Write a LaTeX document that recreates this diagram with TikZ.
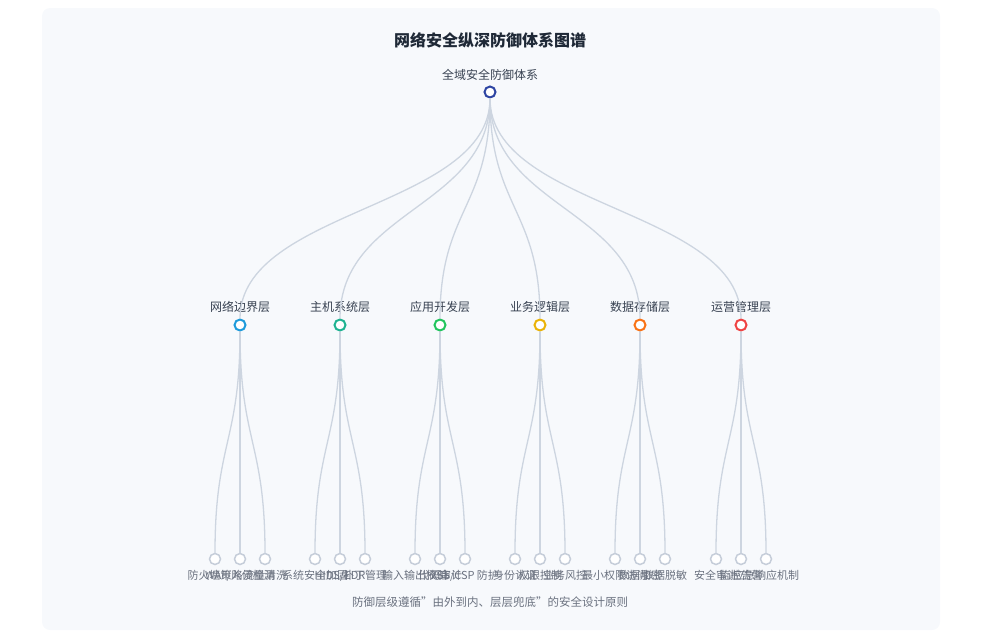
\documentclass[tikz,border=0pt]{standalone}
\usepackage{fontspec}
\setmainfont{Noto Sans CJK SC}
\usetikzlibrary{positioning}

\definecolor{panelbg}{HTML}{F7F9FC}
\definecolor{linkgray}{HTML}{CDD5E0}
\definecolor{leafgray}{HTML}{C5CDD9}
\definecolor{titledark}{HTML}{1F2937}
\definecolor{textdark}{HTML}{374151}
\definecolor{textgray}{HTML}{6B7280}
\definecolor{rootblue}{HTML}{2E45A3}
\definecolor{borderblue}{HTML}{1E9BDB}
\definecolor{hostteal}{HTML}{1FB391}
\definecolor{appgreen}{HTML}{22C55E}
\definecolor{bizyellow}{HTML}{EAB308}
\definecolor{dataorange}{HTML}{F97316}
\definecolor{opsred}{HTML}{EF4444}

\begin{document}
\begin{tikzpicture}[x=1pt,y=-1pt,
linkline/.style={draw=linkgray, line width=1.3pt},
rootdot/.style={circle, draw=rootblue, fill=white, line width=2pt, inner sep=0pt, minimum size=11pt},
layerdot/.style={circle, fill=white, line width=2pt, inner sep=0pt, minimum size=11pt},
leafdot/.style={circle, draw=leafgray, fill=white, line width=1.5pt, inner sep=0pt, minimum size=11pt},
titletext/.style={font=\fontsize{16}{20}\selectfont\bfseries, text=titledark},
layertext/.style={font=\fontsize{12}{14}\selectfont, text=textdark, inner sep=1pt},
leaftext/.style={font=\fontsize{11}{13}\selectfont, text=textgray, inner sep=1pt}]

\useasboundingbox (0,0) rectangle (982,637);
\fill[panelbg, rounded corners=8pt] (42,8) rectangle (940,630);

\node[titletext] (title) at (490,40) {网络安全纵深防御体系图谱};

% root and layers
\node[rootdot] (root) at (490,92) {};
\node[layertext, above=4pt of root] (roottxt) {全域安全防御体系};

\node[layerdot, draw=borderblue] (l1) at (240,325) {};
\node[layerdot, draw=hostteal] (l2) at (340,325) {};
\node[layerdot, draw=appgreen] (l3) at (440,325) {};
\node[layerdot, draw=bizyellow] (l4) at (540,325) {};
\node[layerdot, draw=dataorange] (l5) at (640,325) {};
\node[layerdot, draw=opsred] (l6) at (741,325) {};

\node[layertext, above=5pt of l1] (l1txt) {网络边界层};
\node[layertext, above=5pt of l2] (l2txt) {主机系统层};
\node[layertext, above=5pt of l3] (l3txt) {应用开发层};
\node[layertext, above=5pt of l4] (l4txt) {业务逻辑层};
\node[layertext, above=5pt of l5] (l5txt) {数据存储层};
\node[layertext, above=5pt of l6] (l6txt) {运营管理层};

\draw[linkline] (root) .. controls +(0,116) and +(0,-116) .. (l1);
\draw[linkline] (root) .. controls +(0,116) and +(0,-116) .. (l2);
\draw[linkline] (root) .. controls +(0,116) and +(0,-116) .. (l3);
\draw[linkline] (root) .. controls +(0,116) and +(0,-116) .. (l4);
\draw[linkline] (root) .. controls +(0,116) and +(0,-116) .. (l5);
\draw[linkline] (root) .. controls +(0,116) and +(0,-116) .. (l6);

% leaves
\node[leafdot] (l1a) at (215,559) {};
\node[leafdot] (l1b) at (240,559) {};
\node[leafdot] (l1c) at (265,559) {};
\node[leafdot] (l2a) at (315,559) {};
\node[leafdot] (l2b) at (340,559) {};
\node[leafdot] (l2c) at (365,559) {};
\node[leafdot] (l3a) at (415,559) {};
\node[leafdot] (l3b) at (440,559) {};
\node[leafdot] (l3c) at (465,559) {};
\node[leafdot] (l4a) at (515,559) {};
\node[leafdot] (l4b) at (540,559) {};
\node[leafdot] (l4c) at (565,559) {};
\node[leafdot] (l5a) at (615,559) {};
\node[leafdot] (l5b) at (640,559) {};
\node[leafdot] (l5c) at (665,559) {};
\node[leafdot] (l6a) at (716,559) {};
\node[leafdot] (l6b) at (741,559) {};
\node[leafdot] (l6c) at (766,559) {};

\draw[linkline] (l1) .. controls +(0,117) and +(0,-117) .. (l1a);
\draw[linkline] (l1) -- (l1b);
\draw[linkline] (l1) .. controls +(0,117) and +(0,-117) .. (l1c);
\draw[linkline] (l2) .. controls +(0,117) and +(0,-117) .. (l2a);
\draw[linkline] (l2) -- (l2b);
\draw[linkline] (l2) .. controls +(0,117) and +(0,-117) .. (l2c);
\draw[linkline] (l3) .. controls +(0,117) and +(0,-117) .. (l3a);
\draw[linkline] (l3) -- (l3b);
\draw[linkline] (l3) .. controls +(0,117) and +(0,-117) .. (l3c);
\draw[linkline] (l4) .. controls +(0,117) and +(0,-117) .. (l4a);
\draw[linkline] (l4) -- (l4b);
\draw[linkline] (l4) .. controls +(0,117) and +(0,-117) .. (l4c);
\draw[linkline] (l5) .. controls +(0,117) and +(0,-117) .. (l5a);
\draw[linkline] (l5) -- (l5b);
\draw[linkline] (l5) .. controls +(0,117) and +(0,-117) .. (l5c);
\draw[linkline] (l6) .. controls +(0,117) and +(0,-117) .. (l6a);
\draw[linkline] (l6) -- (l6b);
\draw[linkline] (l6) .. controls +(0,117) and +(0,-117) .. (l6c);

\node[leaftext, below=4pt of l1a] (l1atxt) {防火墙策略};
\node[leaftext, below=4pt of l1b] (l1btxt) {WAF/入侵检测};
\node[leaftext, below=4pt of l1c] (l1ctxt) {流量清洗};
\node[leaftext, below=4pt of l2a] (l2atxt) {系统安全加固};
\node[leaftext, below=4pt of l2b] (l2btxt) {HIDS/EDR};
\node[leaftext, below=4pt of l2c] (l2ctxt) {补丁管理};
\node[leaftext, below=4pt of l3a] (l3atxt) {输入输出校验};
\node[leaftext, below=4pt of l3b] (l3btxt) {代码审计};
\node[leaftext, below=4pt of l3c] (l3ctxt) {XSS/CSP 防护};
\node[leaftext, below=4pt of l4a] (l4atxt) {身份认证};
\node[leaftext, below=4pt of l4b] (l4btxt) {权限控制};
\node[leaftext, below=4pt of l4c] (l4ctxt) {业务风控};
\node[leaftext, below=4pt of l5a] (l5atxt) {最小权限访问};
\node[leaftext, below=4pt of l5b] (l5btxt) {数据加密};
\node[leaftext, below=4pt of l5c] (l5ctxt) {数据脱敏};
\node[leaftext, below=4pt of l6a] (l6atxt) {安全审计};
\node[leaftext, below=4pt of l6b] (l6btxt) {监控告警};
\node[leaftext, below=4pt of l6c] (l6ctxt) {应急响应机制};

\node[leaftext, font=\fontsize{11.5}{14}\selectfont] (note) at (490,602) {防御层级遵循"由外到内、层层兜底"的安全设计原则};

\end{tikzpicture}
\end{document}
